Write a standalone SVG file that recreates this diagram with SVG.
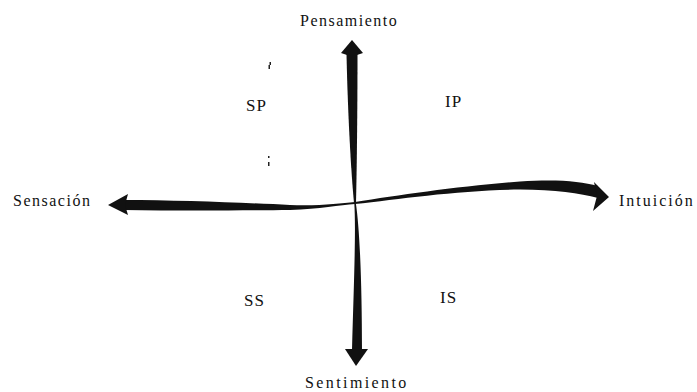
<svg xmlns="http://www.w3.org/2000/svg" width="697" height="392" viewBox="0 0 697 392">
  <style>
    .lbl { font-family: "Liberation Serif", "Times New Roman", serif; font-size: 16px; letter-spacing: 1.5px; fill: #111; }
    .quad { font-family: "Liberation Serif", "Times New Roman", serif; font-size: 17px; letter-spacing: 1px; fill: #111; }
    .arm { fill: #111; stroke: none; }
    .mark { fill: #222; }
  </style>
  <rect width="697" height="392" fill="#fff"/>
  <g id="connectors">
    <g id="axis-vertical">
      <path class="arm" d="M346.5,54 C347.5,100 350,160 354,203 L356,203 C357,160 357.5,100 357.5,54 Z"/>
      <path class="arm" d="M352,40 L363,53 L357,55 L347,55 L341,53 Z"/>
      <path class="arm" d="M354.3,203 C356,230 354,280 352,350 L362,350 C362,290 360,230 355.8,203 Z"/>
      <path class="arm" d="M345,349 L368,349 L356,366 Z"/>
    </g>
    <g id="axis-horizontal">
      <path class="arm" d="M124,200 C180,200 250,203 290,205 C320,206 340,203.5 355,202 L355,204 C340,205 320,209 290,210 C250,210.5 180,211 124,210 Z"/>
      <path class="arm" d="M108,205 L128,194 L125,205 L128,215 Z"/>
      <path class="arm" d="M355,202 C400,195 460,186 520,181.5 C555,179 580,181 598,186 L598,198 C580,193 555,190 520,189.5 C460,190 400,199 355,204 Z"/>
      <path class="arm" d="M594,182 L609,197 L593,211 L597,196 Z"/>
    </g>
  </g>
  <g id="node-pensamiento"><text class="lbl" x="300" y="26">Pensamiento</text></g>
  <g id="node-sentimiento"><text class="lbl" x="305" y="388" style="letter-spacing:2.4px">Sentimiento</text></g>
  <g id="node-sensacion"><text class="lbl" x="13" y="206">Sensación</text></g>
  <g id="node-intuicion"><text class="lbl" x="619" y="206" style="letter-spacing:2px">Intuición</text></g>
  <g id="node-sp"><text class="quad" x="246" y="111">SP</text></g>
  <g id="node-ip"><text class="quad" x="445" y="107">IP</text></g>
  <g id="node-ss"><text class="quad" x="244" y="306">SS</text></g>
  <g id="node-is"><text class="quad" x="440" y="303">IS</text></g>
  <g id="marks">
    <rect class="mark" x="269.5" y="62" width="1.5" height="3"/>
    <rect class="mark" x="268.5" y="65" width="1.5" height="4"/>
    <rect class="mark" x="268" y="156" width="1.5" height="2"/>
    <rect class="mark" x="268" y="162" width="1.5" height="4"/>
  </g>
</svg>
